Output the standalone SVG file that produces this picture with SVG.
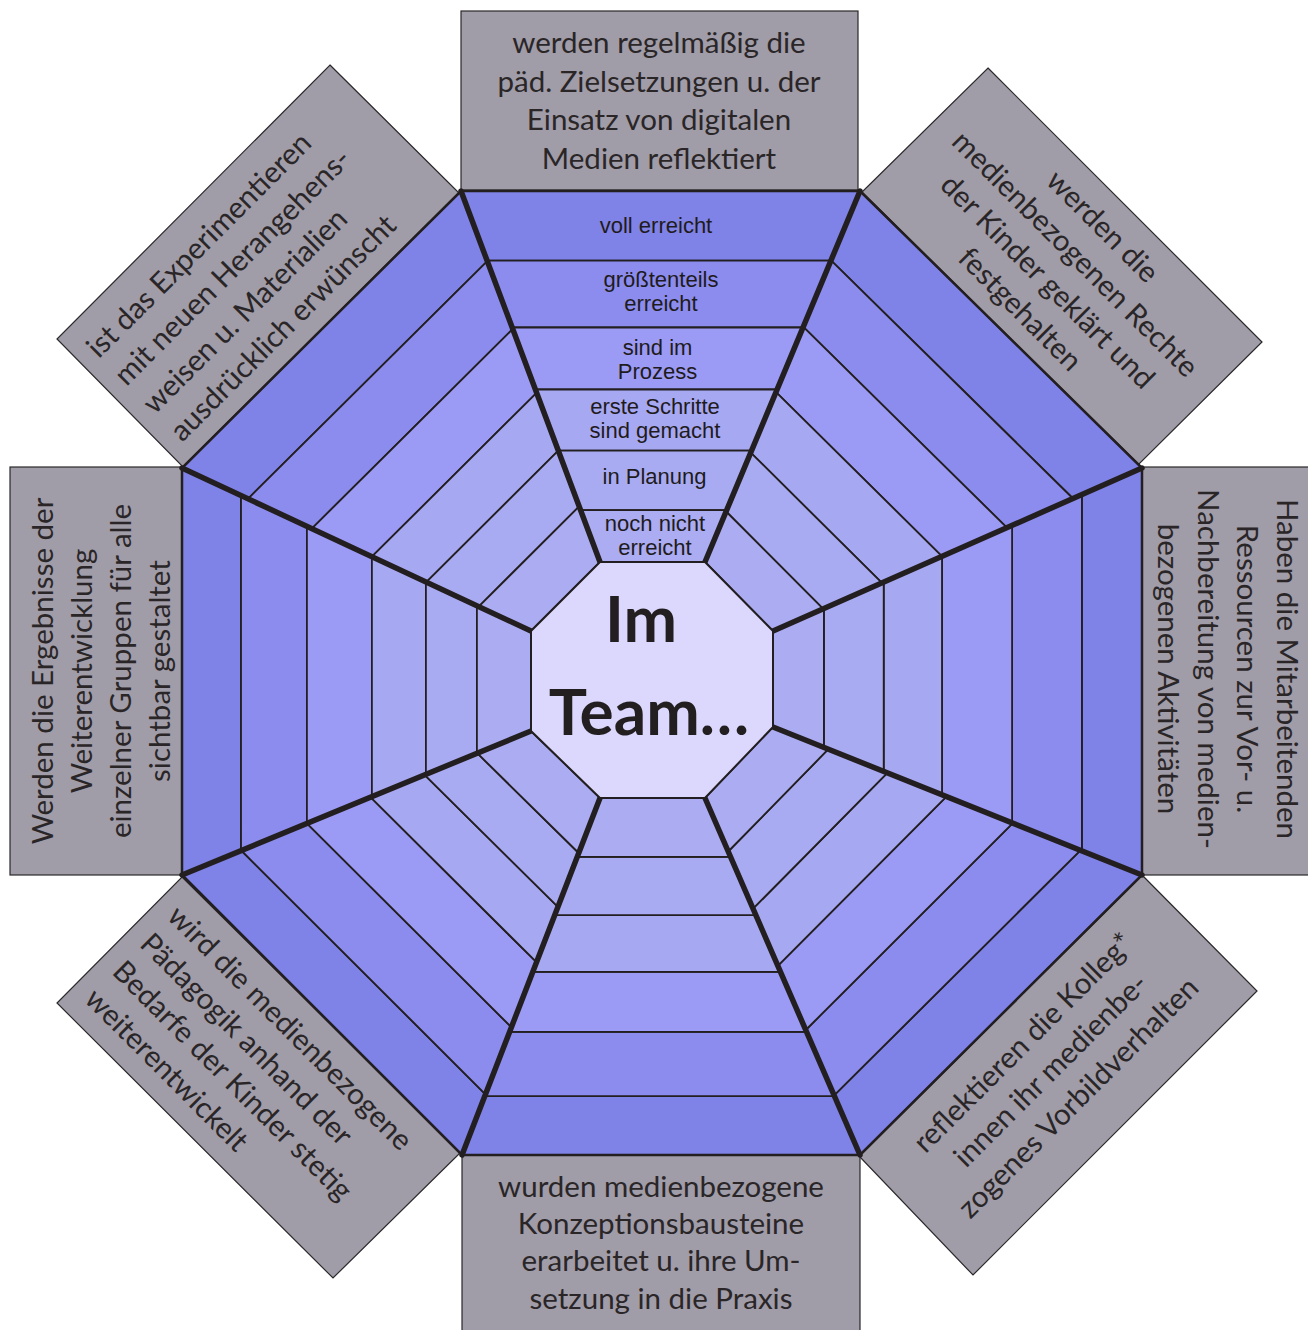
<svg xmlns="http://www.w3.org/2000/svg" width="1308" height="1330" viewBox="0 0 1308 1330">
<style>
.box{fill:#a09ca8;stroke:#2b2829;stroke-width:1.2}
.bt{font-family:Lato,"Open Sans",sans-serif;font-size:29.5px;fill:#2a2627}
.lab{font-family:"Liberation Sans",Arial,sans-serif;font-size:22px;fill:#1f1b1c;text-anchor:middle}
.band polygon{stroke:#231f20;stroke-width:1.8;stroke-linejoin:round}
.b1{fill:#7f82e6}.b2{fill:#8b8cee}.b3{fill:#9b9af5}.b4{fill:#a7a8f2}.b5{fill:#a9abf2}.b6{fill:#abacf2}
.spoke{stroke:#231f20;stroke-width:5.5;stroke-linecap:round}
</style>
<rect width="1308" height="1330" fill="#ffffff"/>
<g id="box-top"><rect class="box" x="461" y="11" width="397" height="179"/>
<text class="bt" text-anchor="middle"><tspan x="659" y="53">werden regelmäßig die</tspan><tspan x="659" y="92">päd. Zielsetzungen u. der</tspan><tspan x="659" y="130">Einsatz von digitalen</tspan><tspan x="659" y="169">Medien reflektiert</tspan></text></g>
<g id="box-topright"><polygon class="box" points="988,68 1262,342 1138,465 862,192"/>
<text class="bt" text-anchor="middle" transform="translate(1062.5,266.75) rotate(45)"><tspan x="0" y="-47">werden die</tspan><tspan x="0" y="-8">medienbezogenen Rechte</tspan><tspan x="0" y="31">der Kinder geklärt und</tspan><tspan x="0" y="70">festgehalten</tspan></text></g>
<g id="box-right"><rect class="box" x="1142" y="467" width="170" height="408"/>
<text class="bt" text-anchor="middle" transform="rotate(90 1225 669)"><tspan x="1225" y="617">Haben die Mitarbeitenden</tspan><tspan x="1225" y="657">Ressourcen zur Vor- u.</tspan><tspan x="1225" y="696">Nachbereitung von medien-</tspan><tspan x="1225" y="736">bezogenen Aktivitäten</tspan></text></g>
<g id="box-bottomright"><polygon class="box" points="1142,875 1257,991 973,1275 859,1156"/>
<text class="bt" text-anchor="middle" transform="translate(1057.75,1074.25) rotate(-45)"><tspan x="-2" y="-37">reflektieren die Kolleg*</tspan><tspan x="-2" y="2">innen ihr medienbe-</tspan><tspan x="-2" y="41">zogenes Vorbildverhalten</tspan></text></g>
<g id="box-bottom"><rect class="box" x="462" y="1155" width="398" height="180"/>
<text class="bt" text-anchor="middle"><tspan x="661" y="1197">wurden medienbezogene</tspan><tspan x="661" y="1234">Konzeptionsbausteine</tspan><tspan x="661" y="1271">erarbeitet u. ihre Um-</tspan><tspan x="661" y="1309">setzung in die Praxis</tspan></text></g>
<g id="box-bottomleft"><polygon class="box" points="182,877 460,1153 333,1278 57,1003"/>
<text class="bt" transform="translate(258,1077.75) rotate(45)"><tspan x="-178" y="-48">wird die medienbezogene</tspan><tspan x="-178" y="-9">Pädagogik anhand der</tspan><tspan x="-178" y="30">Bedarfe der Kinder stetig</tspan><tspan x="-178" y="69">weiterentwickelt</tspan></text></g>
<g id="box-left"><rect class="box" x="10" y="467" width="172" height="408"/>
<text class="bt" text-anchor="middle" transform="rotate(-90 96 671)"><tspan x="96" y="628">Werden die Ergebnisse der</tspan><tspan x="96" y="667">Weiterentwicklung</tspan><tspan x="96" y="706">einzelner Gruppen für alle</tspan><tspan x="96" y="745">sichtbar  gestaltet</tspan></text></g>
<g id="box-topleft"><polygon class="box" points="330,65 459,193 183,467 57,339"/>
<text class="bt" transform="translate(257.25,266) rotate(-45)"><tspan x="-178" y="-46">ist das Experimentieren</tspan><tspan x="-178" y="-7">mit neuen Herangehens-</tspan><tspan x="-178" y="33">weisen u. Materialien</tspan><tspan x="-178" y="72">ausdrücklich erwünscht</tspan></text></g>

<g id="web" class="band">
<g id="seg-top">
<polygon class="b1" points="461,191 860,191 830.9,260.7 487.1,260.7"/>
<polygon class="b2" points="487.1,260.7 830.9,260.7 803,327.5 512.2,327.5"/>
<polygon class="b3" points="512.2,327.5 803,327.5 777.1,389.5 535.4,389.5"/>
<polygon class="b4" points="535.4,389.5 777.1,389.5 751.5,450.7 558.3,450.7"/>
<polygon class="b5" points="558.3,450.7 751.5,450.7 726.7,510.1 580.5,510.1"/>
<polygon class="b6" points="580.5,510.1 726.7,510.1 705,562 600,562"/>
</g>
<g id="seg-topright">
<polygon class="b1" points="860,191 1142,468 1073,498.5 831,260.4"/>
<polygon class="b2" points="831,260.4 1073,498.5 1006.9,527.7 803.3,326.8"/>
<polygon class="b3" points="803.3,326.8 1006.9,527.7 942,556.3 776,392.1"/>
<polygon class="b4" points="776,392.1 942,556.3 881.9,582.9 750.7,452.6"/>
<polygon class="b5" points="750.7,452.6 881.9,582.9 823.2,608.8 726.1,511.5"/>
<polygon class="b6" points="726.1,511.5 823.2,608.8 773,631 705,562"/>
</g>
<g id="seg-right">
<polygon class="b1" points="1142,468 1142,875 1081.9,850.9 1081.9,494.6"/>
<polygon class="b2" points="1081.9,494.6 1081.9,850.9 1012.1,822.9 1012.1,525.4"/>
<polygon class="b3" points="1012.1,525.4 1012.1,822.9 942,794.8 942,556.3"/>
<polygon class="b4" points="942,556.3 942,794.8 883.7,771.4 883.7,582.1"/>
<polygon class="b5" points="883.7,582.1 883.7,771.4 823.9,747.4 823.9,608.5"/>
<polygon class="b6" points="823.9,608.5 823.9,747.4 773,727 773,631"/>
</g>
<g id="seg-bottomright">
<polygon class="b1" points="1142,875 860,1155 834.1,1095.4 1080.4,850.3"/>
<polygon class="b2" points="1080.4,850.3 834.1,1095.4 805.7,1030 1012.8,823.2"/>
<polygon class="b3" points="1012.8,823.2 805.7,1030 777.8,965.8 946.4,796.6"/>
<polygon class="b4" points="946.4,796.6 777.8,965.8 753,908.7 887.4,772.9"/>
<polygon class="b5" points="887.4,772.9 753,908.7 728.2,851.5 828.3,749.2"/>
<polygon class="b6" points="828.3,749.2 728.2,851.5 705,798 773,727"/>
</g>
<g id="seg-bottom">
<polygon class="b1" points="860,1155 462,1155 484.8,1096.1 834.4,1096.1"/>
<polygon class="b2" points="834.4,1096.1 484.8,1096.1 509.6,1031.8 806.5,1031.8"/>
<polygon class="b3" points="806.5,1031.8 509.6,1031.8 532.8,971.9 780.5,971.9"/>
<polygon class="b4" points="780.5,971.9 532.8,971.9 554.7,915.1 755.8,915.1"/>
<polygon class="b5" points="755.8,915.1 554.7,915.1 577.2,856.9 730.6,856.9"/>
<polygon class="b6" points="730.6,856.9 577.2,856.9 600,798 705,798"/>
</g>
<g id="seg-bottomleft">
<polygon class="b1" points="462,1155 182,875 241.3,850.5 485.5,1094.3"/>
<polygon class="b2" points="485.5,1094.3 241.3,850.5 306.9,823.4 511.4,1027.2"/>
<polygon class="b3" points="511.4,1027.2 306.9,823.4 370.5,797.2 536.5,962.2"/>
<polygon class="b4" points="536.5,962.2 370.5,797.2 424.6,774.9 557.9,906.9"/>
<polygon class="b5" points="557.9,906.9 424.6,774.9 477.3,753.2 578.7,853"/>
<polygon class="b6" points="578.7,853 477.3,753.2 531,731 600,798"/>
</g>
<g id="seg-left">
<polygon class="b1" points="182,875 182,468 241,495.5 241,850.7"/>
<polygon class="b2" points="241,850.7 241,495.5 306.9,526.4 306.9,823.4"/>
<polygon class="b3" points="306.9,823.4 306.9,526.4 371.9,556.7 371.9,796.7"/>
<polygon class="b4" points="371.9,796.7 371.9,556.7 425.9,581.9 425.9,774.3"/>
<polygon class="b5" points="425.9,774.3 425.9,581.9 476.9,605.7 476.9,753.3"/>
<polygon class="b6" points="476.9,753.3 476.9,605.7 531,631 531,731"/>
</g>
<g id="seg-topleft">
<polygon class="b1" points="182,468 461,191 487.3,261.1 248,498.8"/>
<polygon class="b2" points="248,498.8 487.3,261.1 512.7,329 311.8,528.6"/>
<polygon class="b3" points="311.8,528.6 512.7,329 536.6,392.8 371.9,556.7"/>
<polygon class="b4" points="371.9,556.7 536.6,392.8 558.3,450.7 426.3,582.1"/>
<polygon class="b5" points="426.3,582.1 558.3,450.7 579.2,506.4 478.7,606.6"/>
<polygon class="b6" points="478.7,606.6 579.2,506.4 600,562 531,631"/>
</g>
</g>

<g id="connectors">
<polygon points="461,191 860,191 1142,468 1142,875 860,1155 462,1155 182,875 182,468" fill="none" stroke="#231f20" stroke-width="2.5"/>
<line class="spoke" x1="461" y1="191" x2="600" y2="562"/>
<line class="spoke" x1="860" y1="191" x2="705" y2="562"/>
<line class="spoke" x1="1142" y1="468" x2="773" y2="631"/>
<line class="spoke" x1="1142" y1="875" x2="773" y2="727"/>
<line class="spoke" x1="860" y1="1155" x2="705" y2="798"/>
<line class="spoke" x1="462" y1="1155" x2="600" y2="798"/>
<line class="spoke" x1="182" y1="875" x2="531" y2="731"/>
<line class="spoke" x1="182" y1="468" x2="531" y2="631"/>
</g>

<g id="levels">
<text class="lab" x="656" y="233">voll erreicht</text>
<text class="lab"><tspan x="661" y="287">größtenteils</tspan><tspan x="661" y="311">erreicht</tspan></text>
<text class="lab"><tspan x="657.5" y="355">sind im</tspan><tspan x="657.5" y="379">Prozess</tspan></text>
<text class="lab"><tspan x="655" y="414">erste Schritte</tspan><tspan x="655" y="438">sind gemacht</tspan></text>
<text class="lab" x="654.5" y="484">in Planung</text>
<text class="lab"><tspan x="655" y="531">noch nicht</tspan><tspan x="655" y="555">erreicht</tspan></text>
</g>

<g id="center">
<polygon points="600,562 705,562 773,631 773,727 705,798 600,798 531,731 531,631" fill="#dcd8fd" stroke="#231f20" stroke-width="2"/>
<text font-family="Lato,'Open Sans',sans-serif" font-weight="700" font-size="64" fill="#231f20" text-anchor="middle"><tspan x="641" y="642">Im</tspan><tspan x="649" y="735">Team…</tspan></text>
</g>
</svg>
